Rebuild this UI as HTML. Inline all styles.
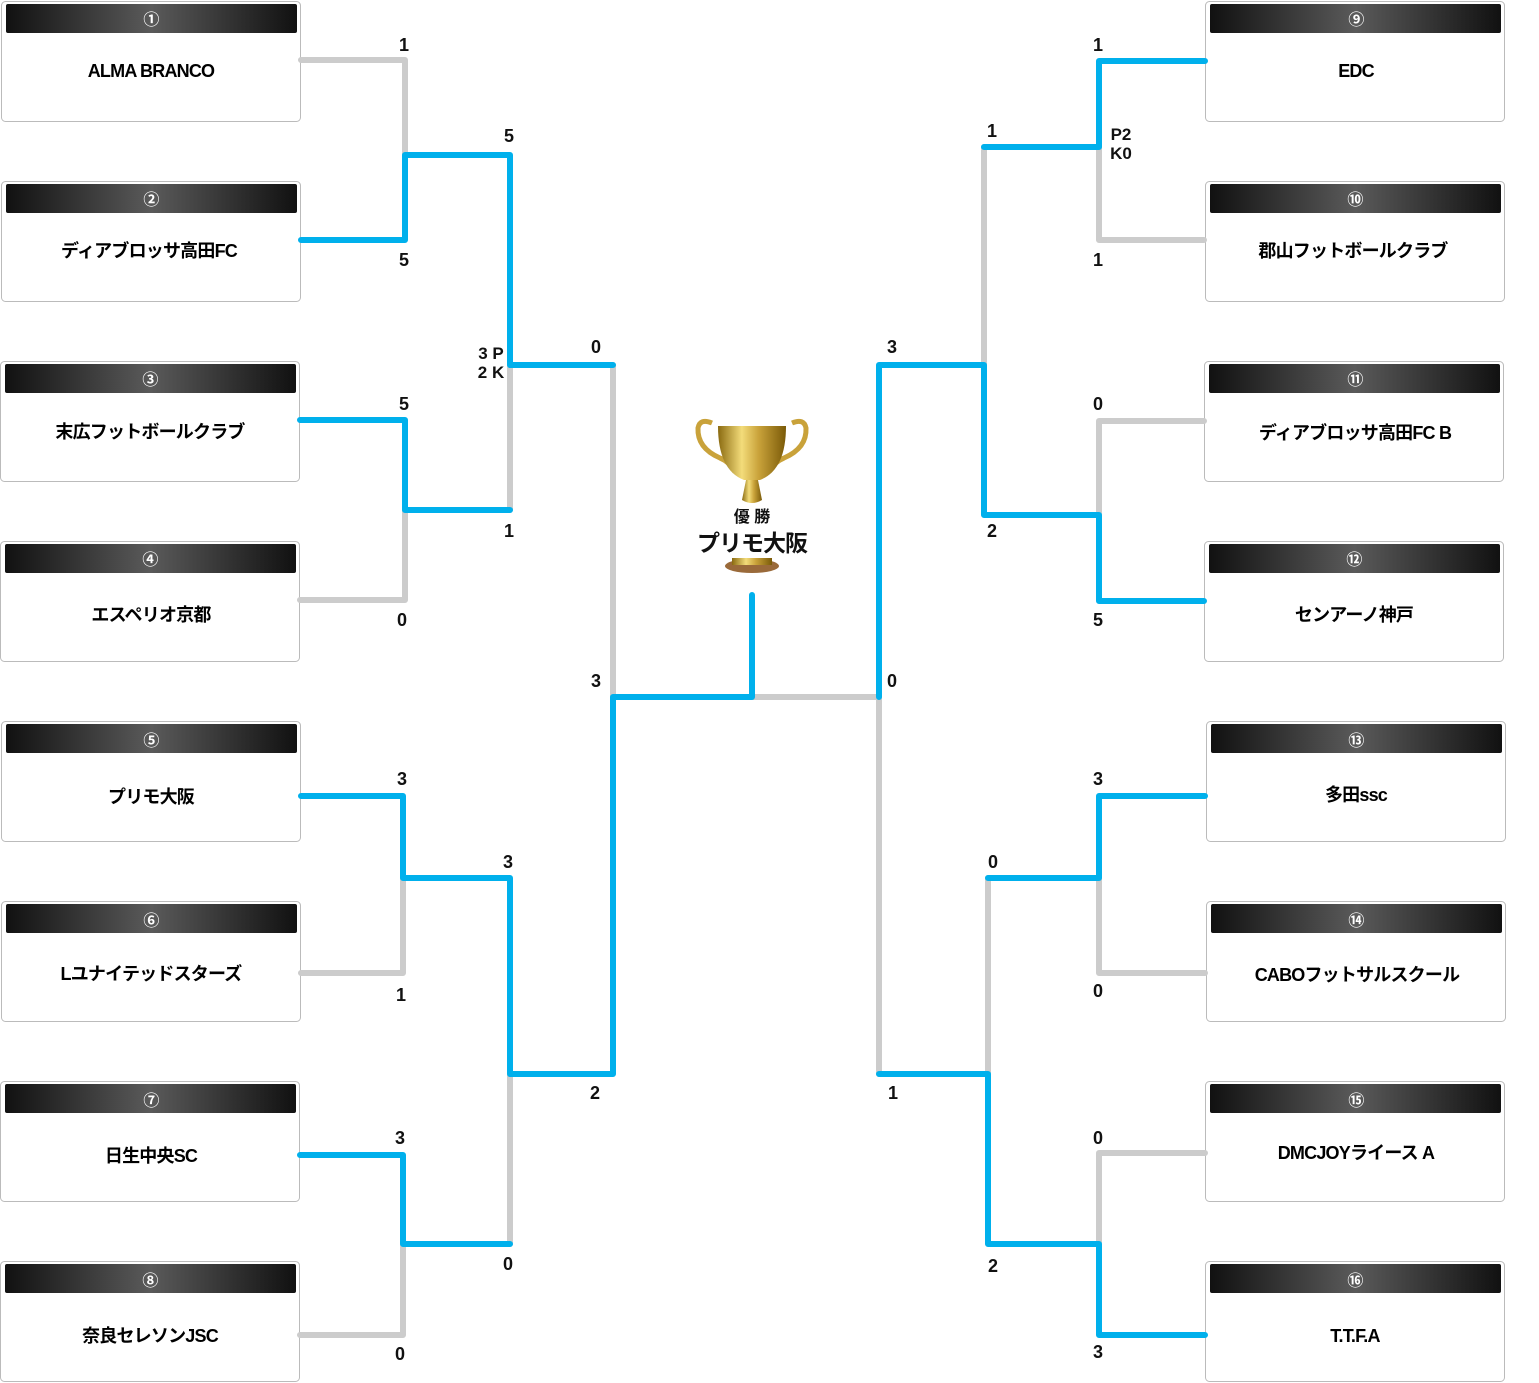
<!DOCTYPE html>
<html><head><meta charset="utf-8"><style>
html,body{margin:0;padding:0;background:#fff;width:1539px;height:1383px;overflow:hidden}
svg{display:block}
text{font-family:"Liberation Sans","Noto Sans CJK JP",sans-serif;font-weight:bold}
.nm text{letter-spacing:-0.8px}
</style></head><body>
<svg width="1539" height="1383" viewBox="0 0 1539 1383" xmlns="http://www.w3.org/2000/svg">
<defs>
<linearGradient id="hd" x1="0" x2="1" y1="0" y2="0">
<stop offset="0" stop-color="#111"/><stop offset="0.5" stop-color="#5a5a5a"/><stop offset="1" stop-color="#111"/>
</linearGradient>
<linearGradient id="gold" x1="0" x2="1" y1="0" y2="0">
<stop offset="0" stop-color="#8a6a10"/><stop offset="0.35" stop-color="#f3dc7a"/><stop offset="0.6" stop-color="#c9a23a"/><stop offset="1" stop-color="#7a5a08"/>
</linearGradient>
</defs>
<g id="boxes" font-size="18" text-anchor="middle" class="nm">
<g><rect x="1.5" y="1.5" width="299" height="120" rx="4" fill="#fff" stroke="#bbb"/><rect x="6" y="4" width="291" height="29" rx="2" fill="url(#hd)"/><text x="151" y="25" fill="#fff" font-size="16" font-weight="normal">①</text><text x="151" y="77">ALMA BRANCO</text></g>
<g><rect x="1.5" y="181.5" width="299" height="120" rx="4" fill="#fff" stroke="#bbb"/><rect x="6" y="184" width="291" height="29" rx="2" fill="url(#hd)"/><text x="151" y="205" fill="#fff" font-size="16" font-weight="normal">②</text><text x="149" y="257">ディアブロッサ高田FC</text></g>
<g><rect x="0.5" y="361.5" width="299" height="120" rx="4" fill="#fff" stroke="#bbb"/><rect x="5" y="364" width="291" height="29" rx="2" fill="url(#hd)"/><text x="150" y="385" fill="#fff" font-size="16" font-weight="normal">③</text><text x="150" y="438">末広フットボールクラブ</text></g>
<g><rect x="0.5" y="541.5" width="299" height="120" rx="4" fill="#fff" stroke="#bbb"/><rect x="5" y="544" width="291" height="29" rx="2" fill="url(#hd)"/><text x="150" y="565" fill="#fff" font-size="16" font-weight="normal">④</text><text x="151" y="621">エスペリオ京都</text></g>
<g><rect x="1.5" y="721.5" width="299" height="120" rx="4" fill="#fff" stroke="#bbb"/><rect x="6" y="724" width="291" height="29" rx="2" fill="url(#hd)"/><text x="151" y="746" fill="#fff" font-size="16" font-weight="normal">⑤</text><text x="151" y="803">プリモ大阪</text></g>
<g><rect x="1.5" y="901.5" width="299" height="120" rx="4" fill="#fff" stroke="#bbb"/><rect x="6" y="904" width="291" height="29" rx="2" fill="url(#hd)"/><text x="151" y="926" fill="#fff" font-size="16" font-weight="normal">⑥</text><text x="151" y="980">Lユナイテッドスターズ</text></g>
<g><rect x="0.5" y="1081.5" width="299" height="120" rx="4" fill="#fff" stroke="#bbb"/><rect x="5" y="1084" width="291" height="29" rx="2" fill="url(#hd)"/><text x="151" y="1106" fill="#fff" font-size="16" font-weight="normal">⑦</text><text x="151" y="1162">日生中央SC</text></g>
<g><rect x="0.5" y="1261.5" width="299" height="120" rx="4" fill="#fff" stroke="#bbb"/><rect x="5" y="1264" width="291" height="29" rx="2" fill="url(#hd)"/><text x="150" y="1286" fill="#fff" font-size="16" font-weight="normal">⑧</text><text x="150" y="1342">奈良セレソンJSC</text></g>
<g><rect x="1205.5" y="1.5" width="299" height="120" rx="4" fill="#fff" stroke="#bbb"/><rect x="1210" y="4" width="291" height="29" rx="2" fill="url(#hd)"/><text x="1356" y="25" fill="#fff" font-size="16" font-weight="normal">⑨</text><text x="1356" y="77">EDC</text></g>
<g><rect x="1205.5" y="181.5" width="299" height="120" rx="4" fill="#fff" stroke="#bbb"/><rect x="1210" y="184" width="291" height="29" rx="2" fill="url(#hd)"/><text x="1355" y="205" fill="#fff" font-size="16" font-weight="normal">⑩</text><text x="1353" y="257">郡山フットボールクラブ</text></g>
<g><rect x="1204.5" y="361.5" width="299" height="120" rx="4" fill="#fff" stroke="#bbb"/><rect x="1209" y="364" width="291" height="29" rx="2" fill="url(#hd)"/><text x="1355" y="385" fill="#fff" font-size="16" font-weight="normal">⑪</text><text x="1355" y="439">ディアブロッサ高田FC B</text></g>
<g><rect x="1204.5" y="541.5" width="299" height="120" rx="4" fill="#fff" stroke="#bbb"/><rect x="1209" y="544" width="291" height="29" rx="2" fill="url(#hd)"/><text x="1354" y="565" fill="#fff" font-size="16" font-weight="normal">⑫</text><text x="1354" y="621">センアーノ神戸</text></g>
<g><rect x="1206.5" y="721.5" width="299" height="120" rx="4" fill="#fff" stroke="#bbb"/><rect x="1211" y="724" width="291" height="29" rx="2" fill="url(#hd)"/><text x="1356" y="746" fill="#fff" font-size="16" font-weight="normal">⑬</text><text x="1356" y="801">多田ssc</text></g>
<g><rect x="1206.5" y="901.5" width="299" height="120" rx="4" fill="#fff" stroke="#bbb"/><rect x="1211" y="904" width="291" height="29" rx="2" fill="url(#hd)"/><text x="1356" y="926" fill="#fff" font-size="16" font-weight="normal">⑭</text><text x="1357" y="981">CABOフットサルスクール</text></g>
<g><rect x="1205.5" y="1081.5" width="299" height="120" rx="4" fill="#fff" stroke="#bbb"/><rect x="1210" y="1084" width="291" height="29" rx="2" fill="url(#hd)"/><text x="1356" y="1106" fill="#fff" font-size="16" font-weight="normal">⑮</text><text x="1356" y="1159">DMCJOYライース A</text></g>
<g><rect x="1205.5" y="1261.5" width="299" height="120" rx="4" fill="#fff" stroke="#bbb"/><rect x="1210" y="1264" width="291" height="29" rx="2" fill="url(#hd)"/><text x="1355" y="1286" fill="#fff" font-size="16" font-weight="normal">⑯</text><text x="1355" y="1342">T.T.F.A</text></g>
</g>

<g fill="none" stroke-width="6" stroke-linejoin="round" stroke-linecap="round">
<g stroke="#cccccc">
<path d="M301 60H405V155"/>
<path d="M300 600H405V510"/>
<path d="M510 510V365"/>
<path d="M301 973H403V878"/>
<path d="M300 1335H403V1244"/>
<path d="M510 1244V1074"/>
<path d="M613 365V697"/>
<path d="M752 697H879V1074"/>
<path d="M984 147V365"/>
<path d="M1204 240H1099V147"/>
<path d="M1204 421H1099V515"/>
<path d="M988 878V1074"/>
<path d="M1205 973H1099V878"/>
<path d="M1205 1153H1099V1244"/>
</g>
<g stroke="#00b0ec">
<path d="M301 240H405V155H510V365H613"/>
<path d="M300 420H405V510H510"/>
<path d="M301 796H403V878H510V1074H613V697H752V595"/>
<path d="M300 1155H403V1244H510"/>
<path d="M879 697V365H984V515H1099V601H1204"/>
<path d="M1205 61H1099V147H984"/>
<path d="M879 1074H988V1244H1099V1335H1205"/>
<path d="M1205 796H1099V878H988"/>
</g>
</g>

<g font-size="18" text-anchor="middle" fill="#111">
<text x="404" y="51">1</text>
<text x="404" y="266">5</text>
<text x="509" y="142">5</text>
<text x="404" y="410">5</text>
<text x="402" y="626">0</text>
<text x="509" y="537">1</text>
<text x="596" y="353">0</text>
<text x="491" y="359" font-size="17">3 P</text>
<text x="491" y="378" font-size="17">2 K</text>
<text x="402" y="785">3</text>
<text x="401" y="1001">1</text>
<text x="508" y="868">3</text>
<text x="400" y="1144">3</text>
<text x="400" y="1360">0</text>
<text x="508" y="1270">0</text>
<text x="596" y="687">3</text>
<text x="595" y="1099">2</text>
<text x="1098" y="51">1</text>
<text x="1098" y="266">1</text>
<text x="992" y="137">1</text>
<text x="1121" y="140" font-size="17">P2</text>
<text x="1121" y="159" font-size="17">K0</text>
<text x="892" y="353">3</text>
<text x="1098" y="410">0</text>
<text x="1098" y="626">5</text>
<text x="992" y="537">2</text>
<text x="892" y="687">0</text>
<text x="1098" y="785">3</text>
<text x="1098" y="997">0</text>
<text x="993" y="868">0</text>
<text x="893" y="1099">1</text>
<text x="1098" y="1144">0</text>
<text x="1098" y="1358">3</text>
<text x="993" y="1272">2</text>
</g>

<g>
<path d="M712 423 Q700 418 698 428 Q697 448 720 458 Q730 462 735 472" fill="none" stroke="#c9a23a" stroke-width="5"/>
<path d="M792 423 Q804 418 806 428 Q807 448 784 458 Q774 462 769 472" fill="none" stroke="#c9a23a" stroke-width="5"/>
<path d="M718 426 H786 Q786 470 760 480 H744 Q718 470 718 426Z" fill="url(#gold)"/>
<path d="M746 480 H758 L762 500 Q752 506 742 500Z" fill="url(#gold)"/>
<ellipse cx="752" cy="566" rx="27" ry="7" fill="#9a6a3a"/>
<rect x="732" y="558" width="40" height="7" fill="url(#gold)"/>
<text x="752" y="522" font-size="16" text-anchor="middle" fill="#111">優 勝</text>
<text x="752" y="551" font-size="23" text-anchor="middle" fill="#111" letter-spacing="-1">プリモ大阪</text>
</g>
</svg>
</body></html>
